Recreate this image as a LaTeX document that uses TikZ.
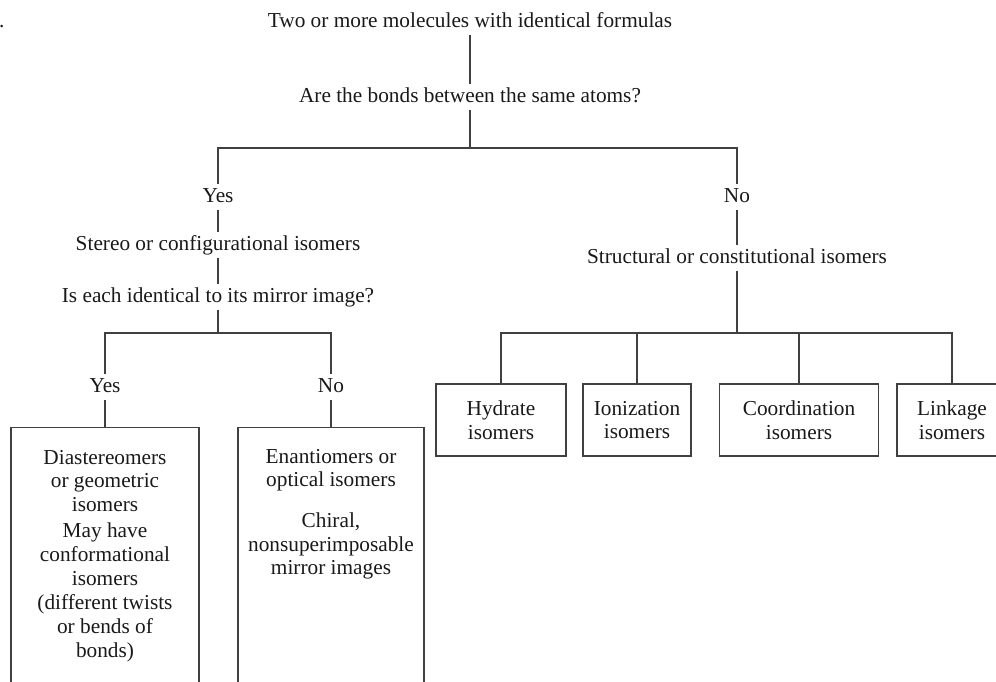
\documentclass[tikz,border=0pt]{standalone}
\usepackage{fontspec}
\setmainfont{Liberation Serif}
\begin{document}
\begin{tikzpicture}[x=1pt,y=-1pt,
  every node/.style={font=\fontsize{21.3}{23.5}\selectfont, text=black!90},
  lbl/.style={inner sep=3pt, text height=15pt, text depth=4.5pt},
  para/.style={align=center, inner sep=0pt},
  sbox/.style={draw=black!75, line width=1.1pt, align=center, inner sep=0pt, minimum height=72pt},
  tbox/.style={draw=black!75, line width=1.1pt, inner sep=0pt, anchor=north, minimum height=320pt},
  ln/.style={draw=black!75, line width=1.1pt}]
\useasboundingbox (0,0) rectangle (996,682);

\node[anchor=base west, inner sep=0pt] (dot) at (-1,28) {.};

\node[lbl] (title) at (470,22) {Two or more molecules with identical formulas};
\node[lbl] (q1) at (470,97) {Are the bonds between the same atoms?};
\node[lbl] (yes1) at (218,197) {Yes};
\node[lbl] (no1) at (737,197) {No};
\node[lbl] (stereo) at (218,245) {Stereo or configurational isomers};
\node[lbl] (q2) at (218,297) {Is each identical to its mirror image?};
\node[lbl] (struct) at (737,258) {Structural or constitutional isomers};
\node[lbl] (yes2) at (105,387) {Yes};
\node[lbl] (no2) at (331,387) {No};

\coordinate (j1) at (470,148);
\coordinate (j2) at (218,333);
\coordinate (j3) at (737,333);

% tall boxes (open at the bottom edge of the picture)
\node[tbox, minimum width=188pt] (dia) at (105,427) {};
\node[tbox, minimum width=186pt] (enan) at (331,427) {};
\node[para] (dia1) at (105,481) {Diastereomers\\or geometric\\isomers};
\node[para, font=\fontsize{21.3}{24}\selectfont] (dia2) at (105,592) {May have\\conformational\\isomers\\(different twists\\or bends of\\bonds)};
\node[para] (enan1) at (331,470) {Enantiomers or\\optical isomers};
\node[para] (enan2) at (331,546) {Chiral,\\nonsuperimposable\\mirror images};

% structural isomer boxes
\node[sbox, minimum width=130pt] (hyd) at (501,420) {Hydrate\\isomers};
\node[sbox, minimum width=108pt] (ion) at (637,420) {Ionization\\isomers};
\node[sbox, minimum width=159pt] (coord) at (799,420) {Coordination\\isomers};
\node[sbox, minimum width=110pt] (link) at (952,420) {Linkage\\isomers};

% connectors
\draw[ln] (title) -- (q1);
\draw[ln] (q1) -- (j1);
\draw[ln] (yes1.north) |- (j1) -| (no1.north);
\draw[ln] (yes1) -- (stereo);
\draw[ln] (stereo) -- (q2);
\draw[ln] (q2) -- (j2);
\draw[ln] (yes2.north) |- (j2) -| (no2.north);
\draw[ln] (yes2) -- (dia.north);
\draw[ln] (no2) -- (enan.north);
\draw[ln] (no1) -- (struct);
\draw[ln] (struct) -- (j3);
\draw[ln] (hyd.north) |- (j3) -| (link.north);
\draw[ln] (ion.north) -- (ion.north |- j3);
\draw[ln] (coord.north) -- (coord.north |- j3);
\end{tikzpicture}
\end{document}
